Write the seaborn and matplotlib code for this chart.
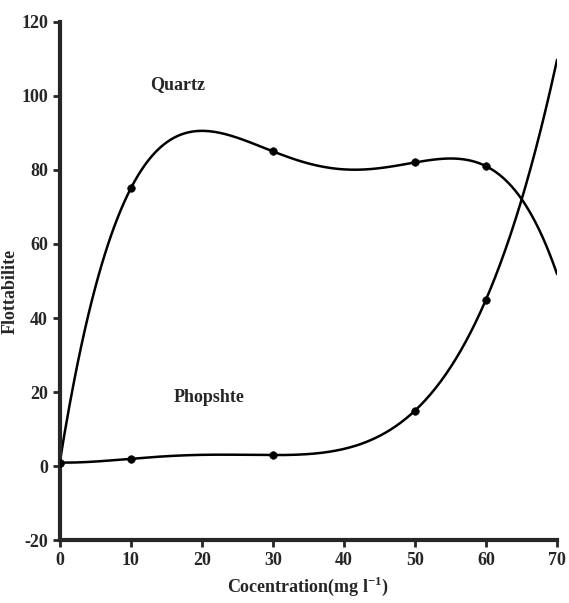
import numpy as np
import pandas as pd
import matplotlib
matplotlib.use('Agg')
import matplotlib.pyplot as plt
import seaborn as sns

conc = [0, 10, 30, 50, 60]
quartz = [1, 75, 85, 82, 81]
phosphate = [1, 2, 3, 15, 45]

sns.set_style('ticks')
plt.rcParams['font.family'] = ['Liberation Serif', 'DejaVu Serif']
plt.rcParams['font.weight'] = 'bold'
plt.rcParams['axes.unicode_minus'] = False

fig = plt.figure(figsize=(5.69, 6.03), dpi=100)
ax = fig.add_axes([0.105, 0.104, 0.874, 0.86])

# smooth curves through the measured points
xs = np.linspace(0, 70, 300)
for name, vals in [('Quartz', quartz), ('Phopshte', phosphate)]:
    coef = np.polyfit(conc, vals, 4)
    fit = pd.DataFrame({'x': xs, 'y': np.polyval(coef, xs)})
    sns.lineplot(data=fit, x='x', y='y', color='black', linewidth=1.8, ax=ax)
    pts = pd.DataFrame({'x': conc, 'y': vals})
    sns.scatterplot(data=pts, x='x', y='y', color='black', s=30, edgecolor='black', ax=ax, zorder=5)

ax.text(16.6, 103, 'Quartz', ha='center', va='center', fontsize=13)
ax.text(21, 18.5, 'Phopshte', ha='center', va='center', fontsize=13)

ax.set_xlim(0, 70)
ax.set_ylim(-20, 120)
ax.set_xticks(range(0, 71, 10))
ax.set_yticks(range(-20, 121, 20))
ax.set_xlabel('Cocentration(mg l$^{\\mathregular{-1}}$)', fontsize=13, fontweight='bold', labelpad=4)
ax.set_ylabel('Flottabilite', fontsize=13, fontweight='bold')
ax.yaxis.set_label_coords(-0.082, 0.48)
ax.tick_params(labelsize=13, width=2, length=5)
for lbl in ax.get_xticklabels() + ax.get_yticklabels():
    lbl.set_fontweight('bold')
sns.despine(ax=ax)
ax.spines['left'].set_linewidth(3)
ax.spines['bottom'].set_linewidth(3)
for sp in ['left', 'bottom']:
    ax.spines[sp].set_clip_on(False)

fig.savefig('out.png', dpi=100)
